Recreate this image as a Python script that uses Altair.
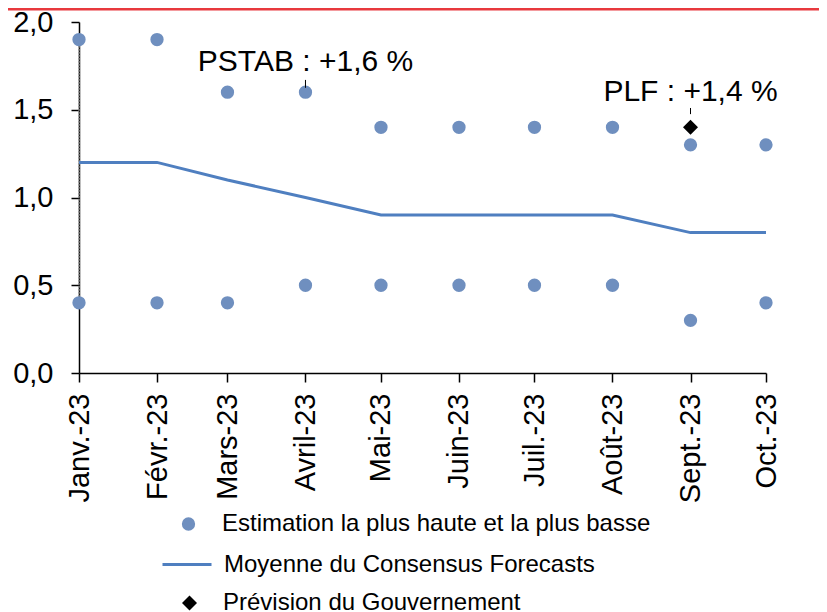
import altair as alt
import pandas as pd

# ---- data ----
months = ["2023-01-01", "2023-02-01", "2023-03-01", "2023-04-01", "2023-05-01",
          "2023-06-01", "2023-07-01", "2023-08-01", "2023-09-01", "2023-10-01"]
month_labels = ["Janv.-23", "Févr.-23", "Mars-23", "Avril-23", "Mai-23",
                "Juin-23", "Juil.-23", "Août-23", "Sept.-23", "Oct.-23"]
high = [1.9, 1.9, 1.6, 1.6, 1.4, 1.4, 1.4, 1.4, 1.3, 1.3]
low = [0.4, 0.4, 0.4, 0.5, 0.5, 0.5, 0.5, 0.5, 0.3, 0.4]
mean = [1.2, 1.2, 1.1, 1.0, 0.9, 0.9, 0.9, 0.9, 0.8, 0.8]
gov_dates = ["2023-09-01"]
gov_values = [1.4]
series_names = ["Estimation la plus haute et la plus basse",
                "Moyenne du Consensus Forecasts",
                "Prévision du Gouvernement"]
annot_texts = ["PSTAB : +1,6 %", "PLF : +1,4 %"]
annot_dates = ["2023-04-01", "2023-09-01"]
annot_text_y = [1.77, 1.60]
annot_tick_top = [1.67, 1.51]
annot_tick_bottom = [1.625, 1.475]
y_ticks = [0.0, 0.5, 1.0, 1.5, 2.0]

FONT = "Liberation Sans"
DOT = "#6F8FBF"
LINE = "#4F7FC0"

# ---- tables ----
points_df = pd.DataFrame({
    "date": months + months,
    "value": high + low,
    "series": [series_names[0]] * (2 * len(months)),
})
mean_df = pd.DataFrame({"date": months, "value": mean, "series": series_names[1]})
gov_df = pd.DataFrame({"date": gov_dates, "value": gov_values, "series": series_names[2]})
jan_df = pd.DataFrame({"date": [months[0]], "lo": [low[0]], "hi": [high[0]]})
annot_df = pd.DataFrame({"date": annot_dates, "text": annot_texts, "ty": annot_text_y,
                         "t1": annot_tick_top, "t2": annot_tick_bottom})

ms = [int(pd.Timestamp(m).value // 10**6) for m in months]
label_array = "[" + ",".join("'" + s + "'" for s in month_labels) + "]"

x_enc = alt.X(
    "date:T",
    scale=alt.Scale(type="utc", domain=[ms[0], ms[-1]]),
    axis=alt.Axis(
        title=None, values=ms, labelExpr=label_array + "[utcmonth(datum.value)]",
        labelAngle=-90, labelFontSize=29, labelFont=FONT, labelColor="black",
        tickSize=9, tickColor="black", tickWidth=1.5, domainColor="black",
        domainWidth=1.5, labelPadding=11, grid=False, labelOverlap=False,
    ),
)
y_scale = alt.Scale(domain=[0, 2], nice=False, zero=True)
y_enc = alt.Y(
    "value:Q", scale=y_scale,
    axis=alt.Axis(
        title=None, values=y_ticks,
        labelExpr="replace(format(datum.value, '.1f'), '.', ',')",
        labelFontSize=29, labelFont=FONT, labelColor="black",
        tickSize=8, tickColor="black", tickWidth=1.5, domainColor="black",
        domainWidth=1.5, labelPadding=18, grid=False,
    ),
)

def legend(x, y, symbol, size, offset, stroke_width=None):
    kw = dict(title=None, orient="none", legendX=x, legendY=y, symbolType=symbol,
              symbolSize=size, labelFontSize=24, labelFont=FONT, labelColor="black",
              labelOffset=offset, padding=0, labelLimit=0, symbolOpacity=1)
    if stroke_width is not None:
        kw["symbolStrokeWidth"] = stroke_width
    return alt.Legend(**kw)

pts = alt.Chart(points_df).mark_circle(size=177, opacity=1).encode(
    x=x_enc, y=y_enc,
    color=alt.Color("series:N", scale=alt.Scale(domain=[series_names[0]], range=[DOT]),
                    legend=legend(97.5, 490, "circle", 177, 21.5)),
)
line = alt.Chart(mean_df).mark_line(strokeWidth=3).encode(
    x=x_enc, y=y_enc,
    color=alt.Color("series:N", scale=alt.Scale(domain=[series_names[1]], range=[LINE]),
                    legend=legend(82, 516.5, "stroke", 2401, 11, 3)),
)
gov = alt.Chart(gov_df).mark_point(shape="diamond", filled=True, size=225, opacity=1).encode(
    x=x_enc, y=y_enc,
    color=alt.Color("series:N", scale=alt.Scale(domain=[series_names[2]], range=["black"]),
                    legend=legend(98.5, 569, "diamond", 225, 21.5)),
)
jan_rule = alt.Chart(jan_df).mark_rule(color="#8a8a8a", strokeWidth=1.5, strokeDash=[2, 1]).encode(
    x=x_enc, y=alt.Y("lo:Q", scale=y_scale), y2="hi:Q",
)
ticks = alt.Chart(annot_df).mark_rule(color="black", strokeWidth=1).encode(
    x=x_enc, y=alt.Y("t1:Q", scale=y_scale), y2="t2:Q",
)
texts = alt.Chart(annot_df).mark_text(fontSize=30, font=FONT, color="black",
                                      align="center", baseline="middle").encode(
    x=x_enc, y=alt.Y("ty:Q", scale=y_scale), text="text:N",
)
top_bar = alt.Chart(annot_df.head(1)).mark_rule(color="#E8393E", strokeWidth=3).encode(
    x=alt.value(-71), x2=alt.value(740), y=alt.value(-13),
)

chart = alt.layer(top_bar, jan_rule, line, pts, gov, ticks, texts).resolve_scale(
    color="independent"
).properties(
    width=687, height=351,
    autosize=alt.AutoSizeParams(type="none"),
    padding={"left": 71, "top": 14, "right": 53, "bottom": 255},
).configure_view(stroke=None)

chart.save("out.html", embed_options={"renderer": "svg", "actions": False})
